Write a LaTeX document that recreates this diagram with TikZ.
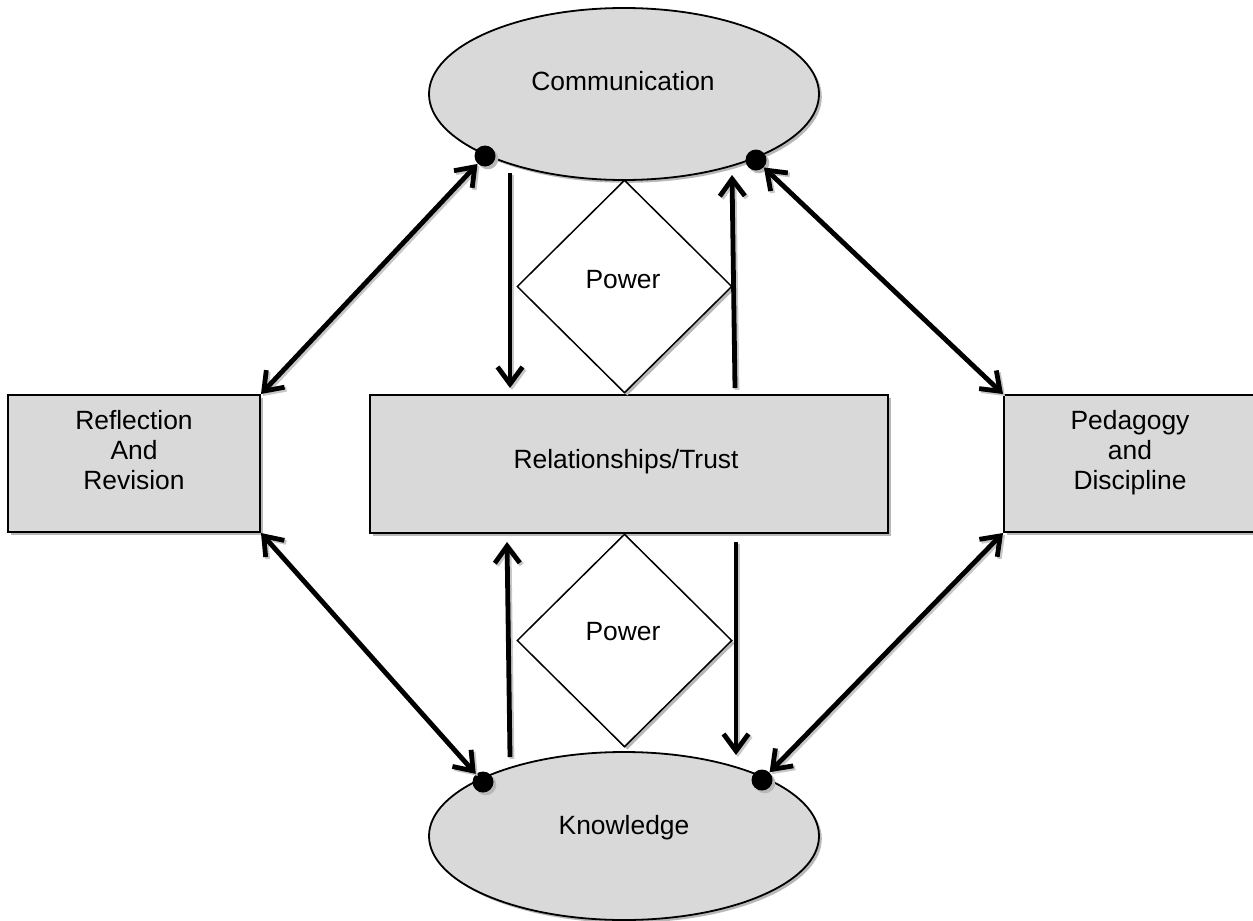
\documentclass[tikz,border=0pt]{standalone}
\usepackage{fontspec}
\setmainfont{Liberation Sans}
\usetikzlibrary{shapes.geometric,arrows.meta,shadows}
\definecolor{shapegray}{RGB}{217,217,217}
\begin{document}
\begin{tikzpicture}[x=0.5pt,y=-0.5pt,
  font=\fontsize{13.2}{15}\selectfont,
  shad/.style={drop shadow={shadow xshift=1.4pt,shadow yshift=-1.4pt,fill=black!28,opacity=1}},
  grayshape/.style={draw=black, fill=shapegray, shad, inner sep=0pt},
  rectbox/.style={grayshape, rectangle, line width=1pt},
  ellbox/.style={grayshape, ellipse, line width=0.9pt, minimum width=195pt},
  powerbox/.style={diamond, draw=black, fill=white, shad, line width=0.75pt, inner sep=0pt, minimum width=107.5pt, minimum height=106.5pt},
  dotnode/.style={circle, fill=black, inner sep=0pt, minimum size=10.5pt, shad},
  lbl/.style={inner sep=0pt, anchor=base},
  mlbl/.style={inner sep=0pt, align=center},
  tip/.tip={Straight Barb[length=8.5pt,width=12.5pt,line width=2.4pt]},
  conn/.style={line width=2.4pt, preaction={draw=black!22, line width=2.4pt, transform canvas={xshift=1pt,yshift=-1pt}}},
  onearrow/.style={conn, -tip},
  twoarrow/.style={conn, tip-tip}
]
\useasboundingbox (0,0) rectangle (1253,921);
\clip (0,0) rectangle (1253,921);

% main shapes
\node[ellbox, minimum height=86pt] (comm) at (624,94) {};
\node[ellbox, minimum height=84pt] (know) at (624,836) {};
\node[rectbox, minimum width=126pt, minimum height=68.5pt] (refl) at (134,463.5) {};
\node[rectbox, minimum width=259pt, minimum height=69pt] (rel) at (629,464) {};
\node[rectbox, minimum width=126pt, minimum height=68.5pt] (peda) at (1130,463.5) {};
\node[powerbox] (pow1) at (624.5,286.5) {};
\node[powerbox] (pow2) at (624.5,640.5) {};

% labels
\node[lbl] (tcomm) at (623,90) {Communication};
\node[lbl] (tknow) at (624,834) {Knowledge};
\node[lbl] (trel) at (626,468) {Relationships/Trust};
\node[lbl] (tpow1) at (623,288) {Power};
\node[lbl] (tpow2) at (623,640) {Power};
\node[mlbl] (trefl) at (134,450.5) {Reflection\\And\\Revision};
\node[mlbl] (tpeda) at (1130,453) {Pedagogy\\and\\Discipline};

% dots on the ellipses
\node[dotnode] (d1) at (485,156) {};
\node[dotnode] (d2) at (756,160) {};
\node[dotnode] (d3) at (483,782) {};
\node[dotnode] (d4) at (762,780) {};

% vertical arrow end points
\coordinate (a1s) at (510,173);
\coordinate (a1e) at (510,388);
\coordinate (a2s) at (735,388);
\coordinate (a2e) at (732,175);
\coordinate (a3s) at (510,757);
\coordinate (a3e) at (507,542);
\coordinate (a4s) at (736,542);
\coordinate (a4e) at (736,755);

\draw[onearrow] (a1s) -- (a1e);
\draw[onearrow] (a2s) -- (a2e);
\draw[onearrow] (a3s) -- (a3e);
\draw[onearrow] (a4s) -- (a4e);

% diagonal double arrows
\draw[twoarrow] (refl.north east) -- (d1);
\draw[twoarrow] (d2) -- (peda.north west);
\draw[twoarrow] (refl.south east) -- (d3);
\draw[twoarrow] (d4) -- (peda.south west);
\end{tikzpicture}
\end{document}
